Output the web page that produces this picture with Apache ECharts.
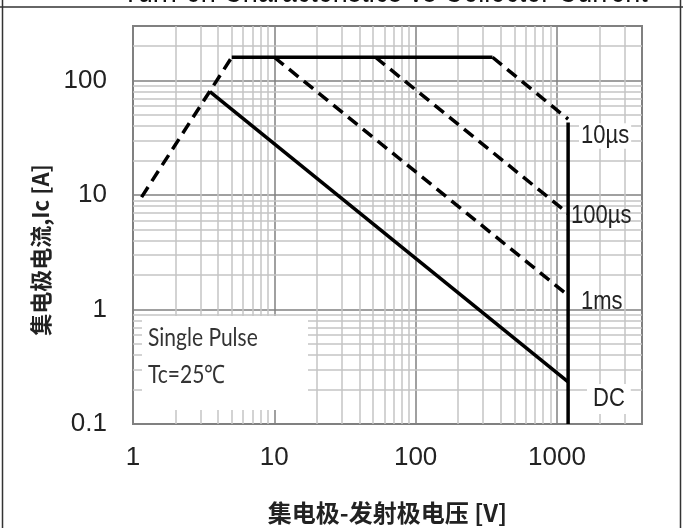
<!DOCTYPE html>
<html><head><meta charset="utf-8">
<script src="https://cdn.jsdelivr.net/npm/echarts@6/dist/echarts.min.js"></script>
<style>html,body{margin:0;padding:0;background:#fff}#c{width:683px;height:528px}</style>
</head><body><div id="c"></div>
<script>
// ---- axis ticks / grid values ----
const xMajorTicks = [1, 10, 100, 1000];
const xTickLabels = ['1', '10', '100', '1000'];
const yMajorTicks = [0.1, 1, 10, 100];
const yTickLabels = ['0.1', '1', '10', '100'];
const xMinorGrid = [2,3,4,5,6,7,8,9,20,30,40,50,60,70,80,90,200,300,400,500,600,700,800,900,2000,3000];
const yMinorGrid = [0.2,0.3,0.4,0.5,0.6,0.7,0.8,0.9,2,3,4,5,6,7,8,9,20,30,40,50,60,70,80,90,200];

// ---- SOA curves (V, A) ----
const riseV  = [1.15, 5];    const riseI  = [9.6, 160];
const flatV  = [5, 350];     const flatI  = [160, 160];
const us10V  = [350, 1200];  const us10I  = [160, 46];
const us100V = [52, 1200];   const us100I = [160, 6.9];
const ms1V   = [10, 1200];   const ms1I   = [160, 1.33];
const dcV    = [3.5, 1200];  const dcI    = [80, 0.233];
const vmaxV  = [1200, 1200]; const vmaxI  = [43, 0.1];
const curveLabels = ['10µs', '100µs', '1ms', 'DC'];

const zip = (a, b) => a.map((v, i) => [v, b[i]]);
const DASH = [12, 7];
function curve(v, i, dashed) {
  return { type: 'line', data: zip(v, i), symbol: 'none', showSymbol: false, silent: true,
    animation: false, z: 5, lineStyle: { color: '#000', width: 3.5, type: dashed ? DASH : 'solid' } };
}
function tickFmt(ticks, labels) {
  return v => {
    const k = ticks.findIndex(t => Math.abs(Math.log10(t) - Math.log10(v)) < 1e-6);
    return k >= 0 ? labels[k] : '';
  };
}
const axisFont = { fontSize: 26, color: '#222', fontFamily: '"Liberation Sans", Arial, sans-serif' };

const chart = echarts.init(document.getElementById('c'), null, { renderer: 'canvas' });
const lblFont = '22px "Liberation Sans", Arial, sans-serif';
chart.setOption({
  animation: false,
  backgroundColor: '#fff',
  grid: { left: 133, right: 41, top: 26, bottom: 104, show: true, borderColor: '#808080', borderWidth: 2, outerBoundsMode: 'none' },
  xAxis: {
    type: 'log', logBase: 10, min: 1, max: 4000,
    name: '集电极-发射极电压 [V]', nameLocation: 'middle', nameGap: 77,
    nameTextStyle: { fontSize: 24, fontWeight: 'bold', color: '#222', fontFamily: '"Noto Sans CJK SC", sans-serif' },
    axisLine: { show: true, lineStyle: { color: '#808080', width: 2 } },
    axisTick: { show: false },
    axisLabel: Object.assign({ margin: 21, formatter: tickFmt(xMajorTicks, xTickLabels) }, axisFont),
    splitLine: { show: true, lineStyle: { color: '#808080', width: 1.5 } }
  },
  yAxis: {
    type: 'log', logBase: 10, min: 0.1, max: 300,
    axisLine: { show: true, lineStyle: { color: '#808080', width: 2 } },
    axisTick: { show: false },
    axisLabel: Object.assign({ margin: 26, formatter: tickFmt(yMajorTicks, yTickLabels) }, axisFont),
    splitLine: { show: true, lineStyle: { color: '#808080', width: 1.5 } }
  },
  series: [
    { type: 'line', data: [], silent: true, z: 1,
      markLine: { silent: true, animation: false, symbol: ['none', 'none'], label: { show: false },
        lineStyle: { color: '#c4c4c4', width: 1.5, type: 'solid' },
        emphasis: { disabled: true },
        data: xMinorGrid.map(v => ({ xAxis: v })).concat(yMinorGrid.map(v => ({ yAxis: v }))) } },
    curve(riseV, riseI, true),
    curve(flatV, flatI, false),
    curve(us10V, us10I, true),
    curve(us100V, us100I, true),
    curve(ms1V, ms1I, true),
    curve(dcV, dcI, false),
    curve(vmaxV, vmaxI, false)
  ],
  graphic: [
    { type: 'line', z: 50, shape: { x1: 2.5, y1: 0, x2: 2.5, y2: 528 }, style: { stroke: '#333', lineWidth: 1.5 } },
    { type: 'line', z: 50, shape: { x1: 680.5, y1: 0, x2: 680.5, y2: 528 }, style: { stroke: '#333', lineWidth: 1.5 } },
    { type: 'line', z: 50, shape: { x1: 0, y1: 7, x2: 683, y2: 7 }, style: { stroke: '#333', lineWidth: 1.5 } },
    { type: 'text', z: 50, x: 385, y: 9.5, scaleY: 1.3,
      style: { text: 'Turn-on Characteristics vs Collector Current', font: '27px "Liberation Sans", Arial, sans-serif', fill: '#111', textAlign: 'center', textVerticalAlign: 'bottom' } },
    { type: 'rect', z: 60, shape: { x: 142, y: 316, width: 166, height: 94 }, style: { fill: '#fff' } },
    { type: 'text', z: 61, x: 148, y: 338, scaleY: 1.2,
      style: { text: 'Single Pulse', font: '21px Lato, "Open Sans", sans-serif', fill: '#333', textVerticalAlign: 'middle' } },
    { type: 'text', z: 61, x: 148, y: 375, scaleY: 1.2,
      style: { text: 'Tc=25℃', font: '21px Lato, "Open Sans", sans-serif', fill: '#333', textVerticalAlign: 'middle' } },
    { type: 'text', z: 61, x: 41, y: 250, rotation: Math.PI / 2,
      style: { text: '集电极电流,Ic [A]', font: 'bold 22px "Noto Sans CJK SC", sans-serif', fill: '#222', textAlign: 'center', textVerticalAlign: 'middle' } },
    { type: 'text', z: 61, x: 579, y: 136, scaleY: 1.15,
      style: { text: curveLabels[0], font: lblFont, fill: '#222', textVerticalAlign: 'middle', backgroundColor: '#fff', padding: [0, 2] } },
    { type: 'text', z: 61, x: 571, y: 216, scaleY: 1.15,
      style: { text: curveLabels[1], font: lblFont, fill: '#222', textVerticalAlign: 'middle' } },
    { type: 'text', z: 61, x: 581, y: 302, scaleY: 1.15,
      style: { text: curveLabels[2], font: lblFont, fill: '#222', textVerticalAlign: 'middle' } },
    { type: 'text', z: 61, x: 587, y: 399, scaleY: 1.15,
      style: { text: curveLabels[3], font: lblFont, fill: '#222', textVerticalAlign: 'middle', backgroundColor: '#fff', padding: [2, 6] } }
  ]
});
</script></body></html>
